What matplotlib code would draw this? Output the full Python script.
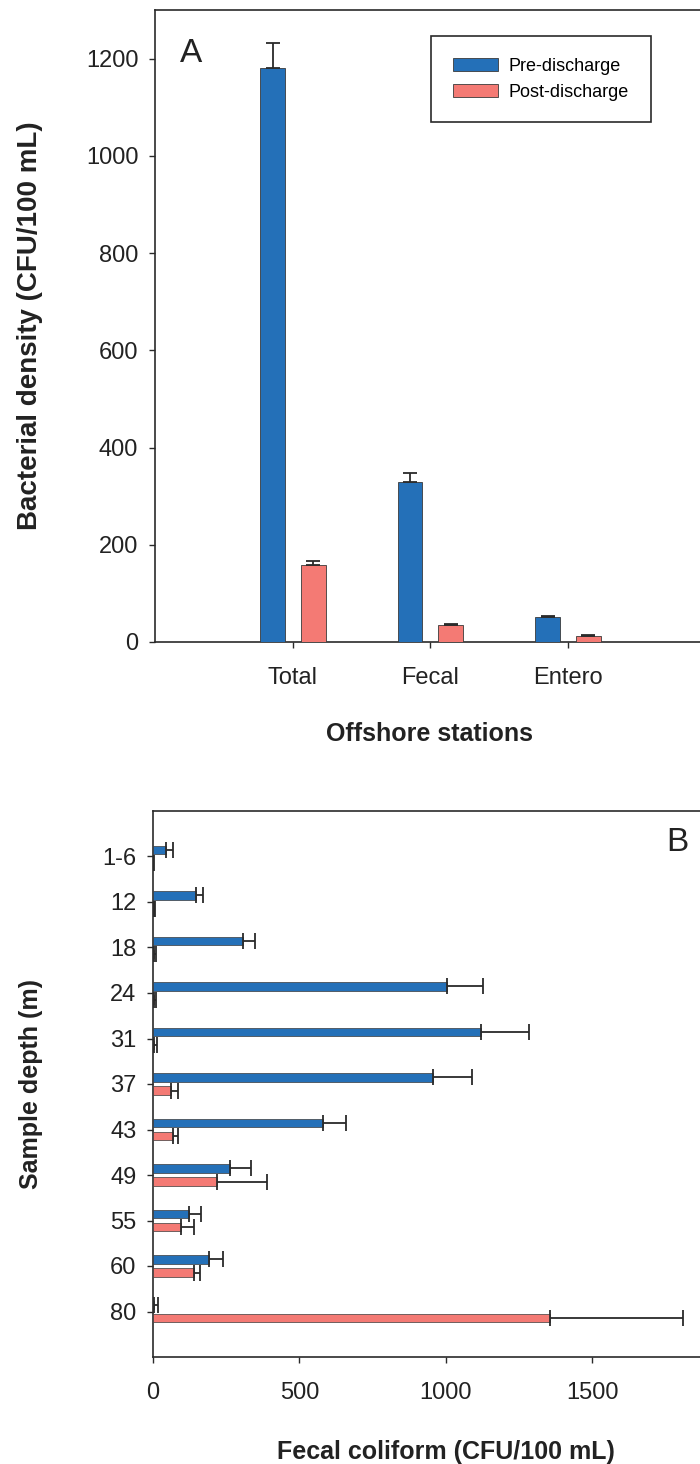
import matplotlib
matplotlib.use("Agg")
import matplotlib.pyplot as plt
import numpy as np

plt.rcParams["font.family"] = ["Liberation Sans", "DejaVu Sans"]

# ── COLORES ──────────────────────────
PRE_COLOR  = "#2470b8"
POST_COLOR = "#f47a74"
EDGE_COLOR = "#3a3a3a"
AXIS_COLOR = "#2a2a2a"

# ── DATOS PANEL A ───────────────────
groups_a   = ["Total", "Fecal", "Entero"]
pre_a      = [1181, 330, 51]
pre_a_err  = [52, 17, 2]
post_a     = [158, 35, 12]
post_a_err = [9, 3, 2]

# ── DATOS PANEL B ───────────────────
depths     = ["1-6", "12", "18", "24", "31", "37", "43", "49", "55", "60", "80"]
pre_b      = [45, 147, 306, 1004, 1121, 955, 581, 263, 123, 193, 5]
pre_b_err  = [23, 24, 43, 124, 163, 135, 79, 71, 40, 45, 12]
post_b     = [1, 3, 4, 4, 5, 62, 67, 219, 94, 141, 1356]
post_b_err = [2, 4, 6, 6, 7, 23, 18, 171, 46, 20, 455]

W, H = 700, 1464
fig = plt.figure(figsize=(W / 100, H / 100), dpi=100)
fig.patch.set_facecolor("white")


def _style(ax):
    for s in ax.spines.values():
        s.set_color(AXIS_COLOR)
        s.set_linewidth(1.2)
    ax.tick_params(colors=AXIS_COLOR, labelcolor="#222222", width=1.0,
                   length=4, labelsize=17, pad=8)


# ── PANEL A ─────────────────────────
ax1 = fig.add_axes([155 / W, 1 - 642 / H, 550 / W, 632 / H])
x = np.arange(1, len(groups_a) + 1)
bw = 0.18
ax1.bar(x - 0.145, pre_a, width=bw, color=PRE_COLOR, edgecolor=EDGE_COLOR,
        linewidth=0.6, label="Pre-discharge", zorder=3)
ax1.bar(x + 0.150, post_a, width=bw, color=POST_COLOR, edgecolor=EDGE_COLOR,
        linewidth=0.6, label="Post-discharge", zorder=3)
ax1.errorbar(x - 0.145, pre_a, yerr=[np.zeros(3), pre_a_err], fmt="none",
             ecolor=AXIS_COLOR, elinewidth=1.3, capsize=5, capthick=1.3, zorder=4)
ax1.errorbar(x + 0.150, post_a, yerr=[np.zeros(3), post_a_err], fmt="none",
             ecolor=AXIS_COLOR, elinewidth=1.3, capsize=5, capthick=1.3, zorder=4)
ax1.set_xlim(0, 4)
ax1.set_ylim(0, 1300)
ax1.set_yticks([0, 200, 400, 600, 800, 1000, 1200])
ax1.set_xticks(x)
ax1.set_xticklabels(groups_a)
_style(ax1)
ax1.tick_params(axis="x", pad=14)
ax1.set_xlabel("Offshore stations", fontsize=18, fontweight="bold",
               color="#222222", labelpad=24)
ax1.set_ylabel("Bacterial density (CFU/100 mL)", fontsize=20,
               fontweight="bold", color="#222222")
ax1.yaxis.set_label_coords(-0.204, 0.5)
ax1.text(0.045, 0.955, "A", transform=ax1.transAxes, fontsize=24,
         ha="left", va="top", color="#222222")

leg = ax1.legend(loc="upper left", bbox_to_anchor=(431 / W, 1 - 36 / H),
                 bbox_transform=fig.transFigure, fontsize=13, frameon=True,
                 fancybox=False, framealpha=1, edgecolor=AXIS_COLOR,
                 handlelength=2.5, handleheight=0.7, labelspacing=0.5,
                 borderpad=1.2, handletextpad=0.6, borderaxespad=0)
leg.get_frame().set_linewidth(1.2)

# ── PANEL B ─────────────────────────
ax2 = fig.add_axes([153 / W, 1 - 1357 / H, 585.4 / W, 546 / H])
y = np.arange(len(depths))
bh = 0.19
ax2.barh(y - 0.145, pre_b, height=bh, color=PRE_COLOR, edgecolor=EDGE_COLOR,
         linewidth=0.5, zorder=3)
ax2.barh(y + 0.145, post_b, height=bh, color=POST_COLOR, edgecolor=EDGE_COLOR,
         linewidth=0.5, zorder=3)
ax2.errorbar(pre_b, y - 0.145, xerr=[np.zeros(len(y)), pre_b_err], fmt="none",
             ecolor=AXIS_COLOR, elinewidth=1.3, capsize=6, capthick=1.3, zorder=4)
ax2.errorbar(post_b, y + 0.145, xerr=[np.zeros(len(y)), post_b_err], fmt="none",
             ecolor=AXIS_COLOR, elinewidth=1.3, capsize=6, capthick=1.3, zorder=4)
ax2.set_xlim(0, 2000)
ax2.set_ylim(len(depths), -1)
ax2.set_yticks(y)
ax2.set_yticklabels(depths)
ax2.set_xticks([0, 500, 1000, 1500])
_style(ax2)
ax2.tick_params(axis="x", pad=14)
ax2.set_xlabel("Fecal coliform (CFU/100 mL)", fontsize=18, fontweight="bold",
               color="#222222", labelpad=26)
ax2.set_ylabel("Sample depth (m)", fontsize=18, fontweight="bold",
               color="#222222")
ax2.yaxis.set_label_coords(-0.188, 0.5)
ax2.text(677 / W, 1 - 843 / H, "B", transform=fig.transFigure, fontsize=24,
         ha="center", va="center", color="#222222")

fig.savefig("out.png", dpi=100, facecolor="white")
